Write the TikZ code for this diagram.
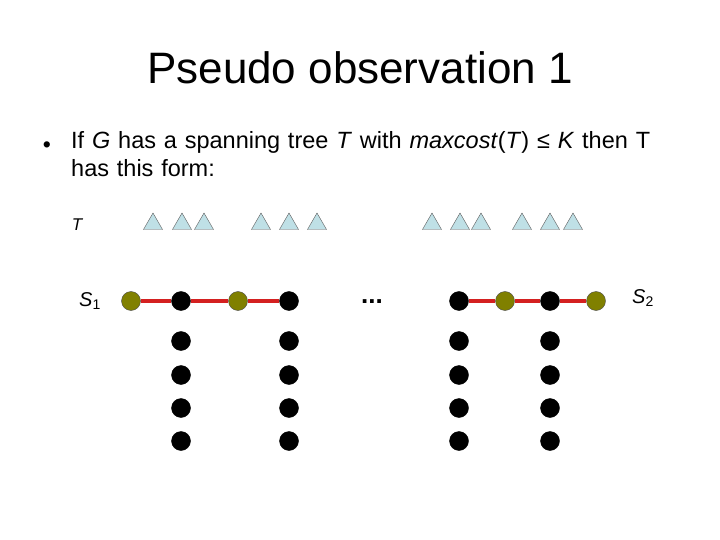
\documentclass[tikz,border=0pt]{standalone}
\usepackage{fontspec}
\setmainfont{Liberation Sans}
\usetikzlibrary{shapes.geometric, positioning}
\definecolor{edgered}{HTML}{D42020}
\definecolor{leafolive}{HTML}{808000}
\definecolor{trifill}{HTML}{BFE0E6}
\definecolor{trigray}{HTML}{5A5A5A}
\tikzset{
  dotv/.style={
    circle, draw=black, fill=black, minimum size=19pt, inner sep=0pt
  },
  olivev/.style={
    circle, draw=black!70, fill=leafolive, minimum size=19pt, inner sep=0pt
  },
  subtri/.style={
    regular polygon, regular polygon sides=3, draw=trigray, fill=trifill,
    minimum size=22pt, inner sep=0pt
  },
  redge/.style={draw=edgered, line width=3.8pt}
}

\begin{document}
\begin{tikzpicture}[x=1pt, y=-1pt]
  \useasboundingbox (0,0) rectangle (720,540);
  % title and text
  \node[font=\fontsize{44}{52}\selectfont] (title) at (360,68)
    {Pseudo observation 1};
  \node[font=\fontsize{23}{28}\selectfont] (bul) at (47,147) {•};
  \node[anchor=north west, inner sep=0pt, text width=620pt, align=left,
        font=\fontsize{23.5}{28}\selectfont] (txt) at (71,131)
    {If \textit{G} has a spanning tree \textit{T} with
     \textit{maxcost}(\textit{T}) ≤ \textit{K} then T\\
     has this form:};
  \node[font=\fontsize{17}{20}\selectfont\itshape] (tlab) at (77,225) {T};
  % subtrees
  \foreach \x [count=\i] in {153,182,204,261,289,317,432,460,481,522,550,573}
    \node[subtri] (t\i) at (\x,224) {};
  % spine
  \node[olivev] (a1) at (131,301) {};
  \node[dotv]   (b1) at (181,301) {};
  \node[olivev] (a2) at (238,301) {};
  \node[dotv]   (b2) at (289,301) {};
  \node[dotv]   (b3) at (459,301) {};
  \node[olivev] (a3) at (505,301) {};
  \node[dotv]   (b4) at (550,301) {};
  \node[olivev] (a4) at (596,301) {};
  \foreach \a/\b in {a1/b1, b1/a2, a2/b2, b3/a3, a3/b4, b4/a4}{%
    \draw[redge] (\a) -- (\b);}
  \node[font=\fontsize{26}{28}\selectfont\bfseries] (dots) at (372,302) {...};
  \node[font=\fontsize{20}{24}\selectfont] (s1) at (90,301)
    {\textit{S}\textsubscript{1}};
  \node[font=\fontsize{20}{24}\selectfont] (s2) at (643,298)
    {\textit{S}\textsubscript{2}};
  % columns below
  \foreach \c/\x in {1/181,2/289,3/459,4/550}
    \foreach \y [count=\j] in {341,375,408,441}
      \node[dotv] (c\c\j) at (\x,\y) {};
\end{tikzpicture}
\end{document}
